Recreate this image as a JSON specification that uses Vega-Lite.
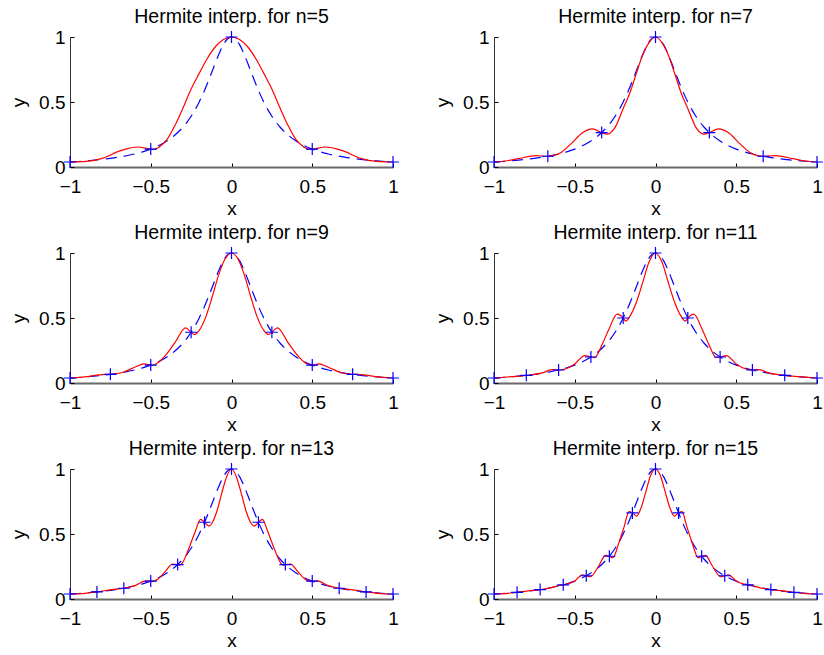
{
"$schema": "https://vega.github.io/schema/vega-lite/v6.json",
"background": "white",
"padding": {"left": 9, "top": 6, "right": 2, "bottom": 2},
"bounds": "flush",
"columns": 2,
"spacing": {"row": 86, "column": 101},
"config": {
 "view": {"stroke": null},
 "font": "Liberation Sans",
 "title": {"font": "Liberation Sans", "fontSize": 19.5, "fontWeight": "normal", "color": "#000000", "frame": "group", "anchor": "middle", "baseline": "alphabetic", "offset": 1},
 "axis": {"labelFont": "Liberation Sans", "titleFont": "Liberation Sans", "labelFontSize": 19, "titleFontSize": 19, "titleFontWeight": "normal", "labelColor": "#000000", "titleColor": "#000000", "grid": false, "tickColor": "#000000", "tickSize": -4, "tickWidth": 1, "format": "~g", "labelFlush": false, "labelOverlap": false},
 "axisX": {"labelBaseline": "alphabetic", "labelPadding": 29, "titleX": 161.5, "titleY": 47, "titleBaseline": "alphabetic", "domainColor": "#6a6a6a", "domainWidth": 2},
 "axisY": {"labelPadding": 9, "titleX": -46, "titleY": 65, "titleBaseline": "alphabetic", "domainColor": "#333333", "domainWidth": 1}
},
"datasets": {
 "runge": [
  {"x": -1, "y": 0.0385}, {"x": -0.95, "y": 0.0424}, {"x": -0.9, "y": 0.0471}, {"x": -0.85, "y": 0.0525}, {"x": -0.8, "y": 0.0588}, {"x": -0.75, "y": 0.0664}, {"x": -0.7, "y": 0.0755}, {"x": -0.65, "y": 0.0865}, {"x": -0.6, "y": 0.1}, {"x": -0.55, "y": 0.1168}, {"x": -0.5, "y": 0.1379}, {"x": -0.45, "y": 0.1649}, {"x": -0.4, "y": 0.2}, {"x": -0.35, "y": 0.2462}, {"x": -0.3, "y": 0.3077}, {"x": -0.275, "y": 0.3459}, {"x": -0.25, "y": 0.3902}, {"x": -0.225, "y": 0.4414}, {"x": -0.2, "y": 0.5}, {"x": -0.175, "y": 0.5664}, {"x": -0.15, "y": 0.64}, {"x": -0.125, "y": 0.7191}, {"x": -0.1, "y": 0.8}, {"x": -0.075, "y": 0.8767}, {"x": -0.05, "y": 0.9412}, {"x": -0.025, "y": 0.9846},
  {"x": 0, "y": 1},
  {"x": 0.025, "y": 0.9846}, {"x": 0.05, "y": 0.9412}, {"x": 0.075, "y": 0.8767}, {"x": 0.1, "y": 0.8}, {"x": 0.125, "y": 0.7191}, {"x": 0.15, "y": 0.64}, {"x": 0.175, "y": 0.5664}, {"x": 0.2, "y": 0.5}, {"x": 0.225, "y": 0.4414}, {"x": 0.25, "y": 0.3902}, {"x": 0.275, "y": 0.3459}, {"x": 0.3, "y": 0.3077}, {"x": 0.35, "y": 0.2462}, {"x": 0.4, "y": 0.2}, {"x": 0.45, "y": 0.1649}, {"x": 0.5, "y": 0.1379}, {"x": 0.55, "y": 0.1168}, {"x": 0.6, "y": 0.1}, {"x": 0.65, "y": 0.0865}, {"x": 0.7, "y": 0.0755}, {"x": 0.75, "y": 0.0664}, {"x": 0.8, "y": 0.0588}, {"x": 0.85, "y": 0.0525}, {"x": 0.9, "y": 0.0471}, {"x": 0.95, "y": 0.0424}, {"x": 1, "y": 0.0385}
 ],
 "nodes": [
  {"n": 5, "x": -1, "y": 0.0385}, {"n": 5, "x": -0.5, "y": 0.1379}, {"n": 5, "x": 0, "y": 1}, {"n": 5, "x": 0.5, "y": 0.1379}, {"n": 5, "x": 1, "y": 0.0385},
  {"n": 7, "x": -1, "y": 0.0385}, {"n": 7, "x": -0.6667, "y": 0.0826}, {"n": 7, "x": -0.3333, "y": 0.2647}, {"n": 7, "x": 0, "y": 1}, {"n": 7, "x": 0.3333, "y": 0.2647}, {"n": 7, "x": 0.6667, "y": 0.0826}, {"n": 7, "x": 1, "y": 0.0385},
  {"n": 9, "x": -1, "y": 0.0385}, {"n": 9, "x": -0.75, "y": 0.0664}, {"n": 9, "x": -0.5, "y": 0.1379}, {"n": 9, "x": -0.25, "y": 0.3902}, {"n": 9, "x": 0, "y": 1}, {"n": 9, "x": 0.25, "y": 0.3902}, {"n": 9, "x": 0.5, "y": 0.1379}, {"n": 9, "x": 0.75, "y": 0.0664}, {"n": 9, "x": 1, "y": 0.0385},
  {"n": 11, "x": -1, "y": 0.0385}, {"n": 11, "x": -0.8, "y": 0.0588}, {"n": 11, "x": -0.6, "y": 0.1}, {"n": 11, "x": -0.4, "y": 0.2}, {"n": 11, "x": -0.2, "y": 0.5}, {"n": 11, "x": 0, "y": 1}, {"n": 11, "x": 0.2, "y": 0.5}, {"n": 11, "x": 0.4, "y": 0.2}, {"n": 11, "x": 0.6, "y": 0.1}, {"n": 11, "x": 0.8, "y": 0.0588}, {"n": 11, "x": 1, "y": 0.0385},
  {"n": 13, "x": -1, "y": 0.0385}, {"n": 13, "x": -0.8333, "y": 0.0545}, {"n": 13, "x": -0.6667, "y": 0.0826}, {"n": 13, "x": -0.5, "y": 0.1379}, {"n": 13, "x": -0.3333, "y": 0.2647}, {"n": 13, "x": -0.1667, "y": 0.5902}, {"n": 13, "x": 0, "y": 1}, {"n": 13, "x": 0.1667, "y": 0.5902}, {"n": 13, "x": 0.3333, "y": 0.2647}, {"n": 13, "x": 0.5, "y": 0.1379}, {"n": 13, "x": 0.6667, "y": 0.0826}, {"n": 13, "x": 0.8333, "y": 0.0545}, {"n": 13, "x": 1, "y": 0.0385},
  {"n": 15, "x": -1, "y": 0.0385}, {"n": 15, "x": -0.8571, "y": 0.0516}, {"n": 15, "x": -0.7143, "y": 0.0727}, {"n": 15, "x": -0.5714, "y": 0.1091}, {"n": 15, "x": -0.4286, "y": 0.1788}, {"n": 15, "x": -0.2857, "y": 0.3289}, {"n": 15, "x": -0.1429, "y": 0.6622}, {"n": 15, "x": 0, "y": 1}, {"n": 15, "x": 0.1429, "y": 0.6622}, {"n": 15, "x": 0.2857, "y": 0.3289}, {"n": 15, "x": 0.4286, "y": 0.1788}, {"n": 15, "x": 0.5714, "y": 0.1091}, {"n": 15, "x": 0.7143, "y": 0.0727}, {"n": 15, "x": 0.8571, "y": 0.0516}, {"n": 15, "x": 1, "y": 0.0385}
 ],
 "herm": [
  {"n": 5, "x": -1, "y": 0.0385}, {"n": 5, "x": -0.9, "y": 0.043}, {"n": 5, "x": -0.8, "y": 0.066}, {"n": 5, "x": -0.7, "y": 0.12}, {"n": 5, "x": -0.65, "y": 0.14}, {"n": 5, "x": -0.58, "y": 0.154}, {"n": 5, "x": -0.5, "y": 0.1379}, {"n": 5, "x": -0.48, "y": 0.136}, {"n": 5, "x": -0.45, "y": 0.152}, {"n": 5, "x": -0.4, "y": 0.21}, {"n": 5, "x": -0.35, "y": 0.32}, {"n": 5, "x": -0.3, "y": 0.455}, {"n": 5, "x": -0.25, "y": 0.6}, {"n": 5, "x": -0.2, "y": 0.72}, {"n": 5, "x": -0.15, "y": 0.835}, {"n": 5, "x": -0.1, "y": 0.925}, {"n": 5, "x": -0.05, "y": 0.98},
  {"n": 5, "x": 0, "y": 1},
  {"n": 5, "x": 0.05, "y": 0.98}, {"n": 5, "x": 0.1, "y": 0.925}, {"n": 5, "x": 0.15, "y": 0.835}, {"n": 5, "x": 0.2, "y": 0.72}, {"n": 5, "x": 0.25, "y": 0.6}, {"n": 5, "x": 0.3, "y": 0.455}, {"n": 5, "x": 0.35, "y": 0.32}, {"n": 5, "x": 0.4, "y": 0.21}, {"n": 5, "x": 0.45, "y": 0.152}, {"n": 5, "x": 0.48, "y": 0.136}, {"n": 5, "x": 0.5, "y": 0.1379}, {"n": 5, "x": 0.58, "y": 0.154}, {"n": 5, "x": 0.65, "y": 0.14}, {"n": 5, "x": 0.7, "y": 0.12}, {"n": 5, "x": 0.8, "y": 0.066}, {"n": 5, "x": 0.9, "y": 0.043}, {"n": 5, "x": 1, "y": 0.0385},

  {"n": 7, "x": -1, "y": 0.0385}, {"n": 7, "x": -0.93, "y": 0.046}, {"n": 7, "x": -0.85, "y": 0.064}, {"n": 7, "x": -0.74, "y": 0.087}, {"n": 7, "x": -0.6667, "y": 0.0826}, {"n": 7, "x": -0.64, "y": 0.085}, {"n": 7, "x": -0.58, "y": 0.116}, {"n": 7, "x": -0.52, "y": 0.182}, {"n": 7, "x": -0.45, "y": 0.265}, {"n": 7, "x": -0.39, "y": 0.293}, {"n": 7, "x": -0.3333, "y": 0.2647}, {"n": 7, "x": -0.3, "y": 0.253}, {"n": 7, "x": -0.28, "y": 0.262}, {"n": 7, "x": -0.25, "y": 0.305}, {"n": 7, "x": -0.2, "y": 0.45}, {"n": 7, "x": -0.16, "y": 0.565}, {"n": 7, "x": -0.12, "y": 0.715}, {"n": 7, "x": -0.08, "y": 0.86}, {"n": 7, "x": -0.04, "y": 0.957},
  {"n": 7, "x": 0, "y": 1},
  {"n": 7, "x": 0.04, "y": 0.957}, {"n": 7, "x": 0.08, "y": 0.86}, {"n": 7, "x": 0.12, "y": 0.715}, {"n": 7, "x": 0.16, "y": 0.565}, {"n": 7, "x": 0.2, "y": 0.45}, {"n": 7, "x": 0.25, "y": 0.305}, {"n": 7, "x": 0.28, "y": 0.262}, {"n": 7, "x": 0.3, "y": 0.253}, {"n": 7, "x": 0.3333, "y": 0.2647}, {"n": 7, "x": 0.39, "y": 0.293}, {"n": 7, "x": 0.45, "y": 0.265}, {"n": 7, "x": 0.52, "y": 0.182}, {"n": 7, "x": 0.58, "y": 0.116}, {"n": 7, "x": 0.64, "y": 0.085}, {"n": 7, "x": 0.6667, "y": 0.0826}, {"n": 7, "x": 0.74, "y": 0.087}, {"n": 7, "x": 0.85, "y": 0.064}, {"n": 7, "x": 0.93, "y": 0.046}, {"n": 7, "x": 1, "y": 0.0385},

  {"n": 9, "x": -1, "y": 0.0385}, {"n": 9, "x": -0.89, "y": 0.049}, {"n": 9, "x": -0.8, "y": 0.065}, {"n": 9, "x": -0.75, "y": 0.0664}, {"n": 9, "x": -0.68, "y": 0.079}, {"n": 9, "x": -0.6, "y": 0.121}, {"n": 9, "x": -0.54, "y": 0.147}, {"n": 9, "x": -0.5, "y": 0.1379}, {"n": 9, "x": -0.49, "y": 0.137}, {"n": 9, "x": -0.46, "y": 0.152}, {"n": 9, "x": -0.41, "y": 0.21}, {"n": 9, "x": -0.35, "y": 0.311}, {"n": 9, "x": -0.284, "y": 0.424}, {"n": 9, "x": -0.25, "y": 0.3902}, {"n": 9, "x": -0.23, "y": 0.373}, {"n": 9, "x": -0.2, "y": 0.405}, {"n": 9, "x": -0.16, "y": 0.505}, {"n": 9, "x": -0.12, "y": 0.66}, {"n": 9, "x": -0.08, "y": 0.83}, {"n": 9, "x": -0.04, "y": 0.954},
  {"n": 9, "x": 0, "y": 1},
  {"n": 9, "x": 0.04, "y": 0.954}, {"n": 9, "x": 0.08, "y": 0.83}, {"n": 9, "x": 0.12, "y": 0.66}, {"n": 9, "x": 0.16, "y": 0.505}, {"n": 9, "x": 0.2, "y": 0.405}, {"n": 9, "x": 0.23, "y": 0.373}, {"n": 9, "x": 0.25, "y": 0.3902}, {"n": 9, "x": 0.284, "y": 0.424}, {"n": 9, "x": 0.35, "y": 0.311}, {"n": 9, "x": 0.41, "y": 0.21}, {"n": 9, "x": 0.46, "y": 0.152}, {"n": 9, "x": 0.49, "y": 0.137}, {"n": 9, "x": 0.5, "y": 0.1379}, {"n": 9, "x": 0.54, "y": 0.147}, {"n": 9, "x": 0.6, "y": 0.121}, {"n": 9, "x": 0.68, "y": 0.079}, {"n": 9, "x": 0.75, "y": 0.0664}, {"n": 9, "x": 0.8, "y": 0.065}, {"n": 9, "x": 0.89, "y": 0.049}, {"n": 9, "x": 1, "y": 0.0385},

  {"n": 11, "x": -1, "y": 0.0385}, {"n": 11, "x": -0.89, "y": 0.049}, {"n": 11, "x": -0.8, "y": 0.0588}, {"n": 11, "x": -0.7, "y": 0.078}, {"n": 11, "x": -0.64, "y": 0.103}, {"n": 11, "x": -0.6, "y": 0.1}, {"n": 11, "x": -0.56, "y": 0.108}, {"n": 11, "x": -0.5, "y": 0.147}, {"n": 11, "x": -0.439, "y": 0.211}, {"n": 11, "x": -0.4, "y": 0.2}, {"n": 11, "x": -0.376, "y": 0.195}, {"n": 11, "x": -0.33, "y": 0.298}, {"n": 11, "x": -0.29, "y": 0.409}, {"n": 11, "x": -0.237, "y": 0.53}, {"n": 11, "x": -0.2, "y": 0.5}, {"n": 11, "x": -0.185, "y": 0.476}, {"n": 11, "x": -0.16, "y": 0.51}, {"n": 11, "x": -0.12, "y": 0.615}, {"n": 11, "x": -0.08, "y": 0.77}, {"n": 11, "x": -0.04, "y": 0.93},
  {"n": 11, "x": 0, "y": 1},
  {"n": 11, "x": 0.04, "y": 0.93}, {"n": 11, "x": 0.08, "y": 0.77}, {"n": 11, "x": 0.12, "y": 0.615}, {"n": 11, "x": 0.16, "y": 0.51}, {"n": 11, "x": 0.185, "y": 0.476}, {"n": 11, "x": 0.2, "y": 0.5}, {"n": 11, "x": 0.237, "y": 0.53}, {"n": 11, "x": 0.29, "y": 0.409}, {"n": 11, "x": 0.33, "y": 0.298}, {"n": 11, "x": 0.376, "y": 0.195}, {"n": 11, "x": 0.4, "y": 0.2}, {"n": 11, "x": 0.439, "y": 0.211}, {"n": 11, "x": 0.5, "y": 0.147}, {"n": 11, "x": 0.56, "y": 0.108}, {"n": 11, "x": 0.6, "y": 0.1}, {"n": 11, "x": 0.64, "y": 0.103}, {"n": 11, "x": 0.7, "y": 0.078}, {"n": 11, "x": 0.8, "y": 0.0588}, {"n": 11, "x": 0.89, "y": 0.049}, {"n": 11, "x": 1, "y": 0.0385},

  {"n": 13, "x": -1, "y": 0.0385}, {"n": 13, "x": -0.907, "y": 0.044}, {"n": 13, "x": -0.8333, "y": 0.0545}, {"n": 13, "x": -0.742, "y": 0.072}, {"n": 13, "x": -0.6667, "y": 0.0826}, {"n": 13, "x": -0.598, "y": 0.103}, {"n": 13, "x": -0.532, "y": 0.14}, {"n": 13, "x": -0.5, "y": 0.1379}, {"n": 13, "x": -0.49, "y": 0.137}, {"n": 13, "x": -0.463, "y": 0.147}, {"n": 13, "x": -0.412, "y": 0.209}, {"n": 13, "x": -0.366, "y": 0.269}, {"n": 13, "x": -0.3333, "y": 0.2647}, {"n": 13, "x": -0.319, "y": 0.261}, {"n": 13, "x": -0.305, "y": 0.276}, {"n": 13, "x": -0.267, "y": 0.38}, {"n": 13, "x": -0.226, "y": 0.514}, {"n": 13, "x": -0.191, "y": 0.612}, {"n": 13, "x": -0.1667, "y": 0.5902}, {"n": 13, "x": -0.141, "y": 0.561}, {"n": 13, "x": -0.123, "y": 0.579}, {"n": 13, "x": -0.092, "y": 0.669}, {"n": 13, "x": -0.061, "y": 0.811}, {"n": 13, "x": -0.03, "y": 0.941},
  {"n": 13, "x": 0, "y": 1},
  {"n": 13, "x": 0.03, "y": 0.941}, {"n": 13, "x": 0.061, "y": 0.811}, {"n": 13, "x": 0.092, "y": 0.669}, {"n": 13, "x": 0.123, "y": 0.579}, {"n": 13, "x": 0.141, "y": 0.561}, {"n": 13, "x": 0.1667, "y": 0.5902}, {"n": 13, "x": 0.191, "y": 0.612}, {"n": 13, "x": 0.226, "y": 0.514}, {"n": 13, "x": 0.267, "y": 0.38}, {"n": 13, "x": 0.305, "y": 0.276}, {"n": 13, "x": 0.319, "y": 0.261}, {"n": 13, "x": 0.3333, "y": 0.2647}, {"n": 13, "x": 0.366, "y": 0.269}, {"n": 13, "x": 0.412, "y": 0.209}, {"n": 13, "x": 0.463, "y": 0.147}, {"n": 13, "x": 0.49, "y": 0.137}, {"n": 13, "x": 0.5, "y": 0.1379}, {"n": 13, "x": 0.532, "y": 0.14}, {"n": 13, "x": 0.598, "y": 0.103}, {"n": 13, "x": 0.6667, "y": 0.0826}, {"n": 13, "x": 0.742, "y": 0.072}, {"n": 13, "x": 0.8333, "y": 0.0545}, {"n": 13, "x": 0.907, "y": 0.044}, {"n": 13, "x": 1, "y": 0.0385},

  {"n": 15, "x": -1, "y": 0.0385}, {"n": 15, "x": -0.933, "y": 0.041}, {"n": 15, "x": -0.8571, "y": 0.0516}, {"n": 15, "x": -0.788, "y": 0.062}, {"n": 15, "x": -0.7143, "y": 0.0727}, {"n": 15, "x": -0.642, "y": 0.088}, {"n": 15, "x": -0.6, "y": 0.104}, {"n": 15, "x": -0.5714, "y": 0.1091}, {"n": 15, "x": -0.507, "y": 0.132}, {"n": 15, "x": -0.451, "y": 0.186}, {"n": 15, "x": -0.4286, "y": 0.1788}, {"n": 15, "x": -0.403, "y": 0.171}, {"n": 15, "x": -0.351, "y": 0.256}, {"n": 15, "x": -0.31, "y": 0.336}, {"n": 15, "x": -0.2857, "y": 0.3289}, {"n": 15, "x": -0.264, "y": 0.318}, {"n": 15, "x": -0.227, "y": 0.432}, {"n": 15, "x": -0.195, "y": 0.553}, {"n": 15, "x": -0.164, "y": 0.672}, {"n": 15, "x": -0.1429, "y": 0.6622}, {"n": 15, "x": -0.116, "y": 0.638}, {"n": 15, "x": -0.091, "y": 0.695}, {"n": 15, "x": -0.06, "y": 0.824}, {"n": 15, "x": -0.029, "y": 0.953},
  {"n": 15, "x": 0, "y": 1},
  {"n": 15, "x": 0.029, "y": 0.953}, {"n": 15, "x": 0.06, "y": 0.824}, {"n": 15, "x": 0.091, "y": 0.695}, {"n": 15, "x": 0.116, "y": 0.638}, {"n": 15, "x": 0.1429, "y": 0.6622}, {"n": 15, "x": 0.164, "y": 0.672}, {"n": 15, "x": 0.195, "y": 0.553}, {"n": 15, "x": 0.227, "y": 0.432}, {"n": 15, "x": 0.264, "y": 0.318}, {"n": 15, "x": 0.2857, "y": 0.3289}, {"n": 15, "x": 0.31, "y": 0.336}, {"n": 15, "x": 0.351, "y": 0.256}, {"n": 15, "x": 0.403, "y": 0.171}, {"n": 15, "x": 0.4286, "y": 0.1788}, {"n": 15, "x": 0.451, "y": 0.186}, {"n": 15, "x": 0.507, "y": 0.132}, {"n": 15, "x": 0.5714, "y": 0.1091}, {"n": 15, "x": 0.6, "y": 0.104}, {"n": 15, "x": 0.642, "y": 0.088}, {"n": 15, "x": 0.7143, "y": 0.0727}, {"n": 15, "x": 0.788, "y": 0.062}, {"n": 15, "x": 0.8571, "y": 0.0516}, {"n": 15, "x": 0.933, "y": 0.041}, {"n": 15, "x": 1, "y": 0.0385}
 ]
},
"concat": [
 {"width": 323, "height": 130, "title": "Hermite interp. for n=5",
  "layer": [
   {"data": {"name": "runge"}, "mark": {"type": "line", "color": "#0000ff", "strokeWidth": 1.2, "strokeDash": [11, 7], "interpolate": "monotone"},
    "encoding": {"x": {"field": "x", "type": "quantitative", "scale": {"domain": [-1, 1], "nice": false}, "title": "x", "axis": {"values": [-1, -0.5, 0, 0.5, 1]}}, "y": {"field": "y", "type": "quantitative", "scale": {"domain": [0, 1], "nice": false, "zero": false}, "title": "y", "axis": {"values": [0, 0.5, 1]}}}},
   {"data": {"name": "herm"}, "transform": [{"filter": "datum.n == 5"}], "mark": {"type": "line", "color": "#ff0000", "strokeWidth": 1.2, "interpolate": "monotone"},
    "encoding": {"x": {"field": "x", "type": "quantitative"}, "y": {"field": "y", "type": "quantitative"}}},
   {"data": {"name": "nodes"}, "transform": [{"filter": "datum.n == 5"}], "mark": {"type": "point", "shape": "M-1,0L1,0M0,-1L0,1", "filled": false, "color": "#0000ff", "size": 144, "strokeWidth": 1.2, "opacity": 1},
    "encoding": {"x": {"field": "x", "type": "quantitative"}, "y": {"field": "y", "type": "quantitative"}}}
  ]},
 {"width": 323, "height": 130, "title": "Hermite interp. for n=7",
  "layer": [
   {"data": {"name": "runge"}, "mark": {"type": "line", "color": "#0000ff", "strokeWidth": 1.2, "strokeDash": [11, 7], "interpolate": "monotone"},
    "encoding": {"x": {"field": "x", "type": "quantitative", "scale": {"domain": [-1, 1], "nice": false}, "title": "x", "axis": {"values": [-1, -0.5, 0, 0.5, 1]}}, "y": {"field": "y", "type": "quantitative", "scale": {"domain": [0, 1], "nice": false, "zero": false}, "title": "y", "axis": {"values": [0, 0.5, 1]}}}},
   {"data": {"name": "herm"}, "transform": [{"filter": "datum.n == 7"}], "mark": {"type": "line", "color": "#ff0000", "strokeWidth": 1.2, "interpolate": "monotone"},
    "encoding": {"x": {"field": "x", "type": "quantitative"}, "y": {"field": "y", "type": "quantitative"}}},
   {"data": {"name": "nodes"}, "transform": [{"filter": "datum.n == 7"}], "mark": {"type": "point", "shape": "M-1,0L1,0M0,-1L0,1", "filled": false, "color": "#0000ff", "size": 144, "strokeWidth": 1.2, "opacity": 1},
    "encoding": {"x": {"field": "x", "type": "quantitative"}, "y": {"field": "y", "type": "quantitative"}}}
  ]},
 {"width": 323, "height": 130, "title": "Hermite interp. for n=9",
  "layer": [
   {"data": {"name": "runge"}, "mark": {"type": "line", "color": "#0000ff", "strokeWidth": 1.2, "strokeDash": [11, 7], "interpolate": "monotone"},
    "encoding": {"x": {"field": "x", "type": "quantitative", "scale": {"domain": [-1, 1], "nice": false}, "title": "x", "axis": {"values": [-1, -0.5, 0, 0.5, 1]}}, "y": {"field": "y", "type": "quantitative", "scale": {"domain": [0, 1], "nice": false, "zero": false}, "title": "y", "axis": {"values": [0, 0.5, 1]}}}},
   {"data": {"name": "herm"}, "transform": [{"filter": "datum.n == 9"}], "mark": {"type": "line", "color": "#ff0000", "strokeWidth": 1.2, "interpolate": "monotone"},
    "encoding": {"x": {"field": "x", "type": "quantitative"}, "y": {"field": "y", "type": "quantitative"}}},
   {"data": {"name": "nodes"}, "transform": [{"filter": "datum.n == 9"}], "mark": {"type": "point", "shape": "M-1,0L1,0M0,-1L0,1", "filled": false, "color": "#0000ff", "size": 144, "strokeWidth": 1.2, "opacity": 1},
    "encoding": {"x": {"field": "x", "type": "quantitative"}, "y": {"field": "y", "type": "quantitative"}}}
  ]},
 {"width": 323, "height": 130, "title": "Hermite interp. for n=11",
  "layer": [
   {"data": {"name": "runge"}, "mark": {"type": "line", "color": "#0000ff", "strokeWidth": 1.2, "strokeDash": [11, 7], "interpolate": "monotone"},
    "encoding": {"x": {"field": "x", "type": "quantitative", "scale": {"domain": [-1, 1], "nice": false}, "title": "x", "axis": {"values": [-1, -0.5, 0, 0.5, 1]}}, "y": {"field": "y", "type": "quantitative", "scale": {"domain": [0, 1], "nice": false, "zero": false}, "title": "y", "axis": {"values": [0, 0.5, 1]}}}},
   {"data": {"name": "herm"}, "transform": [{"filter": "datum.n == 11"}], "mark": {"type": "line", "color": "#ff0000", "strokeWidth": 1.2, "interpolate": "monotone"},
    "encoding": {"x": {"field": "x", "type": "quantitative"}, "y": {"field": "y", "type": "quantitative"}}},
   {"data": {"name": "nodes"}, "transform": [{"filter": "datum.n == 11"}], "mark": {"type": "point", "shape": "M-1,0L1,0M0,-1L0,1", "filled": false, "color": "#0000ff", "size": 144, "strokeWidth": 1.2, "opacity": 1},
    "encoding": {"x": {"field": "x", "type": "quantitative"}, "y": {"field": "y", "type": "quantitative"}}}
  ]},
 {"width": 323, "height": 130, "title": "Hermite interp. for n=13",
  "layer": [
   {"data": {"name": "runge"}, "mark": {"type": "line", "color": "#0000ff", "strokeWidth": 1.2, "strokeDash": [11, 7], "interpolate": "monotone"},
    "encoding": {"x": {"field": "x", "type": "quantitative", "scale": {"domain": [-1, 1], "nice": false}, "title": "x", "axis": {"values": [-1, -0.5, 0, 0.5, 1]}}, "y": {"field": "y", "type": "quantitative", "scale": {"domain": [0, 1], "nice": false, "zero": false}, "title": "y", "axis": {"values": [0, 0.5, 1]}}}},
   {"data": {"name": "herm"}, "transform": [{"filter": "datum.n == 13"}], "mark": {"type": "line", "color": "#ff0000", "strokeWidth": 1.2, "interpolate": "monotone"},
    "encoding": {"x": {"field": "x", "type": "quantitative"}, "y": {"field": "y", "type": "quantitative"}}},
   {"data": {"name": "nodes"}, "transform": [{"filter": "datum.n == 13"}], "mark": {"type": "point", "shape": "M-1,0L1,0M0,-1L0,1", "filled": false, "color": "#0000ff", "size": 144, "strokeWidth": 1.2, "opacity": 1},
    "encoding": {"x": {"field": "x", "type": "quantitative"}, "y": {"field": "y", "type": "quantitative"}}}
  ]},
 {"width": 323, "height": 130, "title": "Hermite interp. for n=15",
  "layer": [
   {"data": {"name": "runge"}, "mark": {"type": "line", "color": "#0000ff", "strokeWidth": 1.2, "strokeDash": [11, 7], "interpolate": "monotone"},
    "encoding": {"x": {"field": "x", "type": "quantitative", "scale": {"domain": [-1, 1], "nice": false}, "title": "x", "axis": {"values": [-1, -0.5, 0, 0.5, 1]}}, "y": {"field": "y", "type": "quantitative", "scale": {"domain": [0, 1], "nice": false, "zero": false}, "title": "y", "axis": {"values": [0, 0.5, 1]}}}},
   {"data": {"name": "herm"}, "transform": [{"filter": "datum.n == 15"}], "mark": {"type": "line", "color": "#ff0000", "strokeWidth": 1.2, "interpolate": "monotone"},
    "encoding": {"x": {"field": "x", "type": "quantitative"}, "y": {"field": "y", "type": "quantitative"}}},
   {"data": {"name": "nodes"}, "transform": [{"filter": "datum.n == 15"}], "mark": {"type": "point", "shape": "M-1,0L1,0M0,-1L0,1", "filled": false, "color": "#0000ff", "size": 144, "strokeWidth": 1.2, "opacity": 1},
    "encoding": {"x": {"field": "x", "type": "quantitative"}, "y": {"field": "y", "type": "quantitative"}}}
  ]}
]
}
